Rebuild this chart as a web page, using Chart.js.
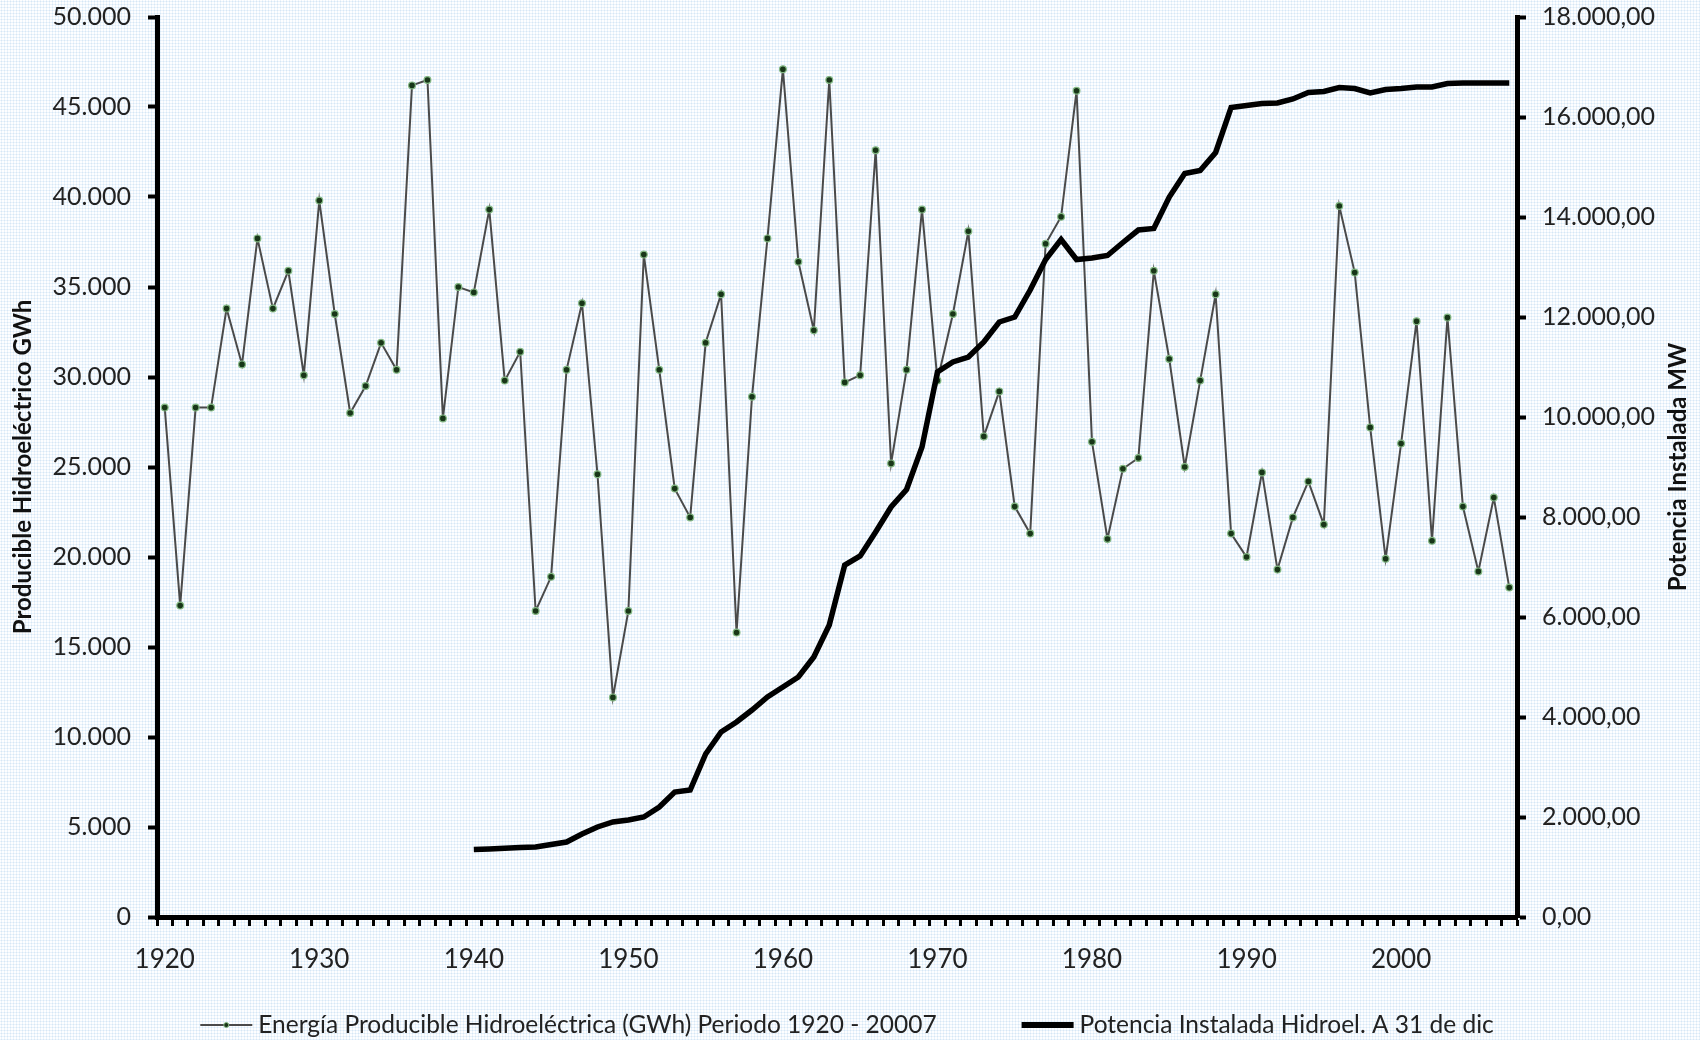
<!DOCTYPE html>
<html lang="es">
<head>
<meta charset="utf-8">
<title>Energía producible y potencia instalada hidroeléctrica</title>
<script src="https://cdn.jsdelivr.net/npm/chart.js@4.4.1/dist/chart.umd.min.js"></script>
<style>
  html, body { margin: 0; padding: 0; }
  body {
    width: 1700px;
    height: 1040px;
    overflow: hidden;
    background-color: #fdfeff;
    background-image: radial-gradient(circle, #d6e7f5 0.9px, transparent 1.1px);
    background-size: 3px 3px;
  }
  #wrap { position: relative; width: 1700px; height: 1040px; }
</style>
</head>
<body>
<div id="wrap"><canvas id="hidroChart" width="1700" height="1040"></canvas></div>
<script>
// Producible hidroeléctrico (GWh) y potencia instalada (MW), 1920 - 2007

const firstYear = 1920;
const lastYear = 2007;
const years = [];
for (let y = firstYear; y <= lastYear; y++) years.push(y);

// Energía producible hidroeléctrica, GWh (1920 ... 2007)
const energia = [
  28300, 17300, 28300, 28300, 33800, 30700, 37700, 33800, 35900, 30100, // 1920s
  39800, 33500, 28000, 29500, 31900, 30400, 46200, 46500, 27700, 35000, // 1930s
  34700, 39300, 29800, 31400, 17000, 18900, 30400, 34100, 24600, 12200, // 1940s
  17000, 36800, 30400, 23800, 22200, 31900, 34600, 15800, 28900, 37700, // 1950s
  47100, 36400, 32600, 46500, 29700, 30100, 42600, 25200, 30400, 39300, // 1960s
  29800, 33500, 38100, 26700, 29200, 22800, 21300, 37400, 38900, 45900, // 1970s
  26400, 21000, 24900, 25500, 35900, 31000, 25000, 29800, 34600, 21300, // 1980s
  20000, 24700, 19300, 22200, 24200, 21800, 39500, 35800, 27200, 19900, // 1990s
  26300, 33100, 20900, 33300, 22800, 19200, 23300, 18300               // 2000s
];

// Potencia instalada hidroeléctrica a 31 de diciembre, MW (desde 1940)
const potenciaDesde = 1940;
const potencia = [
  1350, 1360, 1375, 1390, 1400, 1450, 1500, 1660, 1800, 1900,          // 1940s
  1940, 2000, 2200, 2500, 2540, 3260, 3700, 3900, 4140, 4400,          // 1950s
  4600, 4800, 5200, 5840, 7040, 7220, 7700, 8200, 8550, 9400,          // 1960s
  10900, 11100, 11200, 11500, 11900, 12000, 12540, 13150, 13550, 13150, // 1970s
  13180, 13230, 13490, 13740, 13770, 14400, 14870, 14930, 15290, 16190, // 1980s
  16230, 16270, 16280, 16360, 16490, 16510, 16590, 16570, 16480, 16550, // 1990s
  16570, 16600, 16600, 16670, 16680, 16680, 16680, 16680               // 2000s
];

const leftTicksMax = 50000;
const leftTicksStep = 5000;
const rightTicksMax = 18000;
const rightTicksStep = 2000;

const leftTitle = 'Producible Hidroeléctrico GWh';
const rightTitle = 'Potencia Instalada MW';
const legendEnergia = 'Energía Producible Hidroeléctrica (GWh) Periodo 1920 - 20007';
const legendPotencia = 'Potencia Instalada Hidroel. A 31 de dic';

// colours
const colors = {
  energyLine: '#4a4a4a',
  markerFill: '#183618',
  markerRing: '#84b884',
  power: '#000000',
  tickText: '#222222',
  title: '#111111',
  axis: '#000000'
};

// potencia aligned on the full list of years
const potenciaSerie = years.map(y => (y < potenciaDesde ? null : potencia[y - potenciaDesde]));

// 50000 -> "50.000" ; 18000 -> "18.000,00"
function fmtMiles(n) {
  return String(Math.round(n)).replace(/\B(?=(\d{3})+(?!\d))/g, '.');
}
function fmtMW(n) {
  return fmtMiles(n) + ',00';
}

const yTickFont = { family: 'Lato', size: 25 };
const xTickFont = { family: 'Lato', size: 26 };

// fixed widths for the value axes; the top label may sit over the padding
function fitValueAxis(width) {
  return function(scale) {
    scale.width = width;
    scale.paddingTop = 0;
    scale.paddingBottom = 0;
  };
}

// right-hand title (reads upward like the left one) and the legend row
const extrasPlugin = {
  id: 'extras',
  afterDraw(chart) {
    const ctx = chart.ctx;
    const area = chart.chartArea;

    ctx.save();
    ctx.font = 'bold 24px Lato';
    ctx.fillStyle = colors.title;
    ctx.textAlign = 'center';
    ctx.textBaseline = 'middle';
    ctx.translate(chart.width - 22, (area.top + area.bottom) / 2);
    ctx.rotate(-Math.PI / 2);
    ctx.fillText(rightTitle, 0, 0);
    ctx.restore();

    // legend
    ctx.save();
    ctx.font = '24.5px Lato';
    ctx.textBaseline = 'middle';
    ctx.textAlign = 'left';
    const lineLen = 52;
    const gapText = 6;
    const gapItems = 85;
    const w1 = ctx.measureText(legendEnergia).width;
    const w2 = ctx.measureText(legendPotencia).width;
    const total = lineLen + gapText + w1 + gapItems + lineLen + gapText + w2;
    let x = chart.width / 2 - 3 - total / 2;
    const y = 1025;

    ctx.strokeStyle = colors.energyLine;
    ctx.lineWidth = 2;
    ctx.beginPath();
    ctx.moveTo(x, y);
    ctx.lineTo(x + lineLen, y);
    ctx.stroke();
    ctx.beginPath();
    ctx.arc(x + lineLen / 2, y, 2.5, 0, Math.PI * 2);
    ctx.fillStyle = colors.markerFill;
    ctx.fill();
    ctx.strokeStyle = colors.markerRing;
    ctx.lineWidth = 1;
    ctx.stroke();
    x += lineLen + gapText;
    ctx.fillStyle = colors.tickText;
    ctx.fillText(legendEnergia, x, y);
    x += w1 + gapItems;

    ctx.strokeStyle = colors.power;
    ctx.lineWidth = 6;
    ctx.beginPath();
    ctx.moveTo(x, y);
    ctx.lineTo(x + lineLen, y);
    ctx.stroke();
    x += lineLen + gapText;
    ctx.fillText(legendPotencia, x, y);
    ctx.restore();
  }
};

const ctx = document.getElementById('hidroChart').getContext('2d');

new Chart(ctx, {
  type: 'line',
  data: {
    labels: years.map(String),
    datasets: [
      {
        label: legendEnergia,
        data: energia,
        yAxisID: 'y',
        borderColor: colors.energyLine,
        borderWidth: 2,
        pointRadius: 3.4,
        pointBackgroundColor: colors.markerFill,
        pointBorderColor: colors.markerRing,
        pointBorderWidth: 1.2,
        tension: 0,
        order: 2
      },
      {
        label: legendPotencia,
        data: potenciaSerie,
        yAxisID: 'y1',
        borderColor: colors.power,
        borderWidth: 5.5,
        pointRadius: 0,
        tension: 0,
        order: 1
      }
    ]
  },
  options: {
    responsive: false,
    animation: false,
    layout: {
      padding: { top: 17, bottom: 48, left: 0, right: 0 }
    },
    plugins: {
      legend: { display: false },
      tooltip: { enabled: false },
      title: { display: false }
    },
    scales: {
      x: {
        type: 'category',
        offset: true,
        grid: {
          offset: true,
          drawOnChartArea: false,
          drawTicks: true,
          tickLength: 9,
          tickWidth: 3,
          tickColor: colors.axis
        },
        border: { display: true, color: colors.axis, width: 5 },
        ticks: {
          autoSkip: false,
          maxRotation: 0,
          minRotation: 0,
          padding: 18,
          color: colors.tickText,
          font: xTickFont,
          callback: function(value, index) {
            return years[index] % 10 === 0 ? String(years[index]) : '';
          }
        },
        afterFit: function(scale) { scale.height = 75; }
      },
      y: {
        position: 'left',
        min: 0,
        max: leftTicksMax,
        grid: {
          drawOnChartArea: false,
          tickLength: 9,
          tickWidth: 4,
          tickColor: colors.axis
        },
        border: { display: true, color: colors.axis, width: 5 },
        ticks: {
          stepSize: leftTicksStep,
          padding: 17,
          color: colors.tickText,
          font: yTickFont,
          callback: value => fmtMiles(value)
        },
        title: {
          display: true,
          text: leftTitle,
          color: colors.title,
          font: { family: 'Lato', size: 24, weight: 'bold' },
          padding: { top: 9, bottom: 0 }
        },
        afterFit: fitValueAxis(157)
      },
      y1: {
        position: 'right',
        min: 0,
        max: rightTicksMax,
        grid: {
          drawOnChartArea: false,
          tickLength: 9,
          tickWidth: 4,
          tickColor: colors.axis
        },
        border: { display: true, color: colors.axis, width: 5 },
        ticks: {
          stepSize: rightTicksStep,
          padding: 16,
          color: colors.tickText,
          font: yTickFont,
          callback: value => fmtMW(value)
        },
        afterFit: fitValueAxis(183)
      }
    }
  },
  plugins: [extrasPlugin]
});
</script>
</body>
</html>
